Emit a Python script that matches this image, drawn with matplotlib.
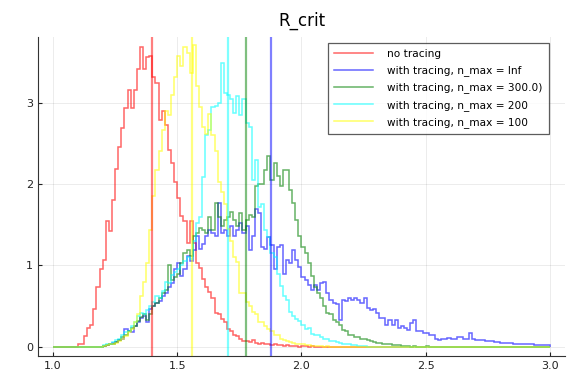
import numpy as np
import matplotlib.pyplot as plt

# R_crit density histograms, bin width 0.0125 over [1.0, 3.0]
bin_lo, bin_hi, bin_w = 1.0, 3.0, 0.0125

labels = ["no tracing", "with tracing, n_max = Inf", "with tracing, n_max = 300.0)",
          "with tracing, n_max = 200", "with tracing, n_max = 100"]
colors = ["red", "blue", "green", "cyan", "yellow"]

# first bin of each series (the rest of the range is zero)
start_red, start_inf, start_300, start_200, start_100 = 1.1, 1.2, 1.2, 1.2, 1.2

dens_red = [0.03, 0.04, 0.13, 0.23, 0.27, 0.46, 0.73, 0.95, 1.07, 1.55, 1.42, 1.81,
            2.18, 2.45, 2.69, 2.93, 3.16, 2.93, 3.16, 3.41, 3.68, 3.41, 3.56, 3.57,
            3.32, 3.24, 2.79, 2.90, 2.73, 2.42, 2.26, 2.02, 1.83, 1.61, 1.55, 1.28,
            1.55, 1.28, 1.03, 0.97, 0.83, 0.73, 0.67, 0.60, 0.42, 0.40, 0.34, 0.30,
            0.22, 0.20, 0.15, 0.13, 0.09, 0.07, 0.07, 0.06, 0.08, 0.05, 0.04, 0.05,
            0.03, 0.03, 0.02, 0.03, 0.02, 0.02, 0.01, 0.02, 0.01, 0.01, 0.01, 0.0,
            0.01, 0.01, 0.0, 0.01]

dens_inf = [0.01, 0.02, 0.03, 0.05, 0.06, 0.08, 0.10, 0.22, 0.20, 0.18, 0.25, 0.30,
            0.35, 0.38, 0.30, 0.46, 0.50, 0.54, 0.56, 0.62, 0.66, 0.74, 0.78, 0.95,
            1.03, 0.87, 0.95, 1.11, 1.05, 1.19, 1.36, 1.20, 1.26, 1.36, 1.44, 1.40,
            1.36, 1.77, 1.40, 1.44, 1.36, 1.48, 1.36, 1.44, 1.52, 1.40, 1.48, 1.19,
            1.36, 1.69, 1.65, 1.23, 1.20, 1.35, 1.25, 0.95, 1.23, 1.25, 0.90, 1.07,
            1.03, 1.19, 1.07, 0.98, 0.86, 0.82, 0.76, 0.70, 0.76, 0.70, 0.78, 0.80,
            0.66, 0.58, 0.54, 0.52, 0.33, 0.58, 0.56, 0.60, 0.58, 0.60, 0.58, 0.54,
            0.60, 0.48, 0.45, 0.46, 0.41, 0.35, 0.35, 0.27, 0.33, 0.27, 0.33, 0.23,
            0.26, 0.23, 0.21, 0.29, 0.33, 0.19, 0.20, 0.17, 0.17, 0.15, 0.14, 0.10,
            0.08, 0.10, 0.10, 0.11, 0.10, 0.10, 0.12, 0.12, 0.10, 0.10, 0.17, 0.09,
            0.08, 0.08, 0.08, 0.07, 0.07, 0.07, 0.06, 0.06, 0.05, 0.05, 0.05, 0.05,
            0.04, 0.04, 0.04, 0.03, 0.03, 0.03, 0.03, 0.02, 0.02, 0.02, 0.02, 0.02]

dens_300 = [0.01, 0.02, 0.03, 0.04, 0.06, 0.08, 0.12, 0.15, 0.20, 0.23, 0.25, 0.32,
            0.37, 0.40, 0.33, 0.40, 0.50, 0.54, 0.60, 0.66, 0.70, 1.00, 0.82, 0.86,
            0.90, 1.03, 1.15, 1.19, 1.11, 1.36, 1.40, 1.46, 1.44, 1.40, 1.60, 1.44,
            1.77, 1.60, 1.48, 1.56, 1.60, 1.66, 1.56, 1.48, 1.64, 1.44, 1.56, 1.62,
            1.60, 1.97, 2.00, 2.00, 2.17, 2.34, 2.05, 2.26, 2.10, 1.97, 2.17, 2.17,
            1.93, 1.77, 1.56, 1.36, 1.23, 1.15, 1.03, 0.87, 0.74, 0.66, 0.60, 0.50,
            0.42, 0.40, 0.33, 0.30, 0.27, 0.21, 0.20, 0.15, 0.14, 0.12, 0.12, 0.10,
            0.09, 0.08, 0.07, 0.06, 0.05, 0.05, 0.04, 0.03, 0.03, 0.02, 0.02, 0.02,
            0.01, 0.01, 0.01, 0.0, 0.01, 0.0, 0.0, 0.0, 0.01]

dens_200 = [0.02, 0.03, 0.04, 0.06, 0.08, 0.10, 0.14, 0.18, 0.20, 0.26, 0.30, 0.38,
            0.42, 0.40, 0.45, 0.50, 0.55, 0.62, 0.60, 0.68, 0.80, 0.78, 0.88, 0.92,
            0.95, 1.00, 1.05, 1.10, 1.08, 1.30, 1.52, 1.60, 2.09, 2.60, 2.66, 2.95,
            2.96, 3.00, 3.49, 3.12, 3.10, 3.04, 2.87, 3.08, 2.85, 3.04, 2.75, 2.70,
            2.05, 2.30, 1.72, 1.75, 1.44, 1.35, 1.15, 1.10, 0.90, 0.75, 0.63, 0.57,
            0.43, 0.38, 0.34, 0.32, 0.27, 0.22, 0.23, 0.16, 0.15, 0.14, 0.12, 0.10,
            0.09, 0.07, 0.07, 0.06, 0.05, 0.04, 0.03, 0.03, 0.02, 0.02, 0.01, 0.01,
            0.01]

dens_100 = [0.01, 0.02, 0.03, 0.04, 0.05, 0.07, 0.10, 0.13, 0.18, 0.22, 0.30, 0.40,
            0.62, 0.80, 1.03, 1.44, 1.85, 2.17, 2.40, 2.66, 2.90, 2.85, 3.10, 3.32,
            3.57, 3.45, 3.69, 3.61, 3.36, 3.71, 3.20, 2.95, 2.70, 2.62, 2.86, 2.60,
            2.40, 2.03, 1.90, 1.75, 1.45, 1.30, 1.10, 1.04, 0.66, 0.66, 0.55, 0.50,
            0.43, 0.40, 0.31, 0.30, 0.25, 0.22, 0.20, 0.15, 0.14, 0.10, 0.08, 0.07,
            0.06, 0.05, 0.04, 0.03, 0.03, 0.02, 0.02, 0.01, 0.01, 0.01, 0.01, 0.0,
            0.01]

# mean of each run (vertical lines)
means = [1.40, 1.879, 1.778, 1.706, 1.56]

starts = [start_red, start_inf, start_300, start_200, start_100]
series = [dens_red, dens_inf, dens_300, dens_200, dens_100]

edges = np.arange(bin_lo, bin_hi + bin_w / 2, bin_w)
nbins = len(edges) - 1

fig = plt.figure(figsize=(5.77, 3.83), dpi=100)
ax = fig.add_axes([0.066, 0.071, 0.913, 0.833])

for lab, col, st, vals in zip(labels, colors, starts, series):
    full = np.zeros(nbins)
    i0 = int(round((st - bin_lo) / bin_w))
    full[i0:i0 + len(vals)] = vals
    ax.stairs(full, edges, color=col, alpha=0.6, lw=1.1, label=lab)

for col, m in zip(colors, means):
    ax.axvline(m, color=col, alpha=0.5, lw=1.6)

ax.set_xlim(0.94, 3.06)
ax.set_ylim(-0.111, 3.81)
ax.set_xticks([1.0, 1.5, 2.0, 2.5, 3.0])
ax.set_yticks([0, 1, 2, 3])
ax.grid(True, color='black', alpha=0.08, lw=0.7)
ax.set_axisbelow(True)
for s in ['top', 'right']:
    ax.spines[s].set_visible(False)
for s in ['left', 'bottom']:
    ax.spines[s].set_color('#333333')
ax.tick_params(direction='in', length=3, labelsize=8, colors='#222222')

ax.set_title("R_crit", fontsize=12, pad=8)
leg = ax.legend(loc='upper right', fontsize=7.6, frameon=True, fancybox=False,
                edgecolor='#333333', handlelength=3.7, handletextpad=1.4,
                borderpad=0.55, labelspacing=0.6, borderaxespad=0.3,
                bbox_to_anchor=(0.975, 0.99))
leg.get_frame().set_linewidth(0.9)

plt.savefig('out.png', dpi=100)
